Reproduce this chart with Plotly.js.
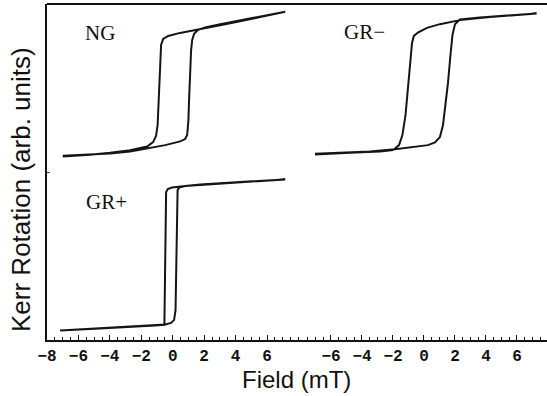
<!DOCTYPE html>
<html>
<head>
<meta charset="utf-8">
<script src="https://cdn.plot.ly/plotly-3.0.1.min.js"></script>
<style>html,body{margin:0;padding:0;background:#fff;}#chart{width:547px;height:396px;}</style>
</head>
<body>
<div id="chart"></div>
<script>
// NG loop (left panel, top): ascending branch then descending branch
const ngField = [-7.00,-5.26,-3.99,-2.71,-1.44,-0.48,0.47,0.79,0.92,1.00,1.04,1.11,1.17,1.24,1.36,1.62,2.06,3.02,4.29,5.57,7.16,
                 5.57,3.66,1.75,0.47,-0.29,-0.61,-0.74,-0.80,-0.87,-0.96,-1.06,-1.25,-1.63,-2.71,-3.99,-5.26,-7.00];
const ngKerr  = [0.548,0.551,0.555,0.561,0.571,0.580,0.591,0.598,0.610,0.655,0.714,0.804,0.863,0.893,0.911,0.923,0.930,0.940,0.951,0.963,0.977,
                 0.961,0.943,0.926,0.914,0.905,0.896,0.878,0.804,0.714,0.640,0.607,0.589,0.576,0.565,0.557,0.551,0.546];

// GR- loop (right panel, top)
const grmField = [-7.03,-5.42,-3.48,-1.87,-0.58,0.26,0.71,1.03,1.23,1.39,1.55,1.71,1.84,2.00,2.32,3.61,4.90,6.19,7.27,
                  6.19,4.26,2.32,1.03,0.19,-0.39,-0.65,-0.77,-0.90,-1.03,-1.19,-1.39,-1.61,-2.00,-2.84,-4.77,-7.03];
const grmKerr  = [0.554,0.557,0.561,0.568,0.574,0.580,0.588,0.604,0.640,0.699,0.765,0.848,0.908,0.940,0.954,0.960,0.964,0.969,0.972,
                  0.969,0.961,0.952,0.940,0.929,0.915,0.905,0.884,0.818,0.759,0.670,0.610,0.580,0.565,0.561,0.557,0.552];

// GR+ loop (left panel, bottom)
const grpField = [-7.17,-5.90,-4.62,-3.35,-2.08,-1.12,-0.48,-0.10,0.09,0.18,0.22,0.25,0.28,0.31,0.41,0.79,1.75,3.02,4.29,5.57,7.16,
                  5.57,3.02,0.79,-0.04,-0.32,-0.42,-0.45,-0.48,-0.50,-0.52,-0.53,-1.12,-2.08,-3.35,-4.62,-5.90,-7.17];
const grpKerr  = [0.028,0.031,0.034,0.037,0.040,0.043,0.046,0.051,0.060,0.089,0.179,0.298,0.417,0.446,0.454,0.458,0.463,0.467,0.470,0.473,0.478,
                  0.473,0.467,0.458,0.454,0.449,0.440,0.357,0.238,0.119,0.060,0.045,0.043,0.040,0.037,0.034,0.031,0.028];

const leftTicks  = [-8,-6,-4,-2,0,2,4,6];
const rightTicks = [-6,-4,-2,0,2,4,6];
const loopLabels = ["NG","GR\u2212","GR+"];
const labelPos = {x:[-4.64,-3.81,-4.24], y:[0.913,0.917,0.412], axis:['x','x2','x']};

const fmt = v => v < 0 ? '\u2212' + (-v) : String(v);
const lineStyle = {color:'#151515', width:2};
const traces = [
  {x:ngField, y:ngKerr, xaxis:'x', yaxis:'y', mode:'lines', line:lineStyle, hoverinfo:'skip'},
  {x:grmField, y:grmKerr, xaxis:'x2', yaxis:'y', mode:'lines', line:lineStyle, hoverinfo:'skip'},
  {x:grpField, y:grpKerr, xaxis:'x', yaxis:'y', mode:'lines', line:lineStyle, hoverinfo:'skip'}
];

const tickFont = {family:'"Liberation Mono", "Courier New", monospace', size:16, color:'#111', weight:'bold'};
const xCommon = {
  anchor:'y', showline:true, linewidth:2, linecolor:'#111', showgrid:false, zeroline:false,
  ticks:'inside', ticklen:5, tickwidth:1, tickcolor:'#111', tickfont:tickFont,
  minor:{ticks:'inside', dtick:0.5, ticklen:3, tickcolor:'#111', tickwidth:1, showgrid:false},
  fixedrange:true
};

const serif = {family:'"Liberation Serif", "Times New Roman", serif', size:21, color:'#111'};
const layout = {
  width:547, height:396,
  margin:{l:47, r:0, t:4, b:56},
  paper_bgcolor:'#fff', plot_bgcolor:'#fff',
  showlegend:false,
  xaxis: Object.assign({}, xCommon, {domain:[0,0.506], range:[-8,8.1], tickmode:'array', tickvals:leftTicks, ticktext:leftTicks.map(fmt)}),
  xaxis2: Object.assign({}, xCommon, {domain:[0.506,1], range:[-8,7.94], tickmode:'array', tickvals:rightTicks, ticktext:rightTicks.map(fmt)}),
  yaxis: {domain:[0,1], range:[0,1], showline:true, linewidth:2, linecolor:'#111', showgrid:false, zeroline:false,
          ticks:'inside', ticklen:3, tickvals:[0.5], ticktext:[''], showticklabels:false, fixedrange:true},
  shapes:[
    {type:'line', xref:'paper', yref:'paper', x0:0, x1:1, y0:1, y1:1, line:{color:'#111', width:2}}
  ],
  annotations: loopLabels.map((t,i)=>({text:t, xref:labelPos.axis[i], yref:'y', x:labelPos.x[i], y:labelPos.y[i], showarrow:false, font:serif})).concat([
    {text:'Kerr Rotation (arb. units)', xref:'paper', yref:'paper', x:-0.051, y:0.448, xanchor:'center', yanchor:'middle', textangle:-90, showarrow:false,
     font:{family:'"Liberation Sans", Arial, sans-serif', size:26, color:'#111'}},
    {text:'Field (mT)', xref:'paper', yref:'paper', x:0.499, y:-0.119, xanchor:'center', yanchor:'middle', showarrow:false,
     font:{family:'"Liberation Sans", Arial, sans-serif', size:24, color:'#111'}}
  ])
};

Plotly.newPlot('chart', traces, layout, {staticPlot:true, displayModeBar:false});
</script>
</body>
</html>
